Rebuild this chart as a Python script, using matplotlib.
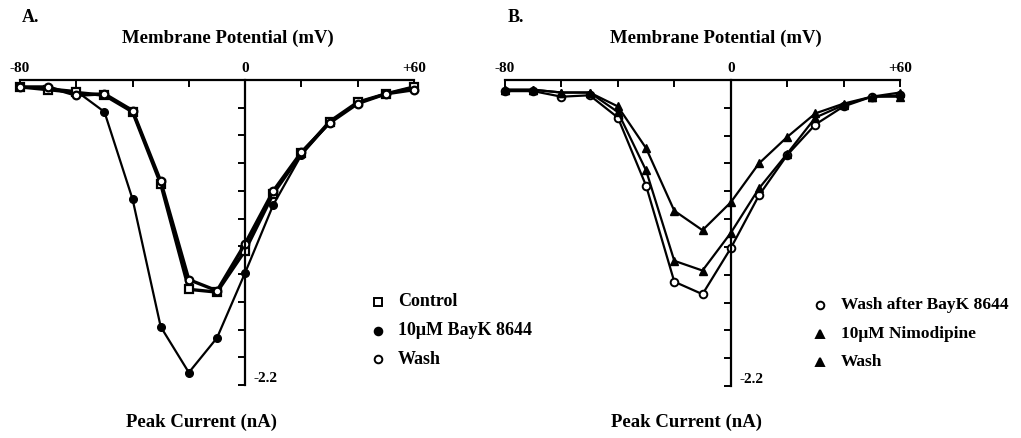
import numpy as np
import matplotlib.pyplot as plt

plt.rcParams['font.family'] = ['Liberation Serif', 'DejaVu Serif']
plt.rcParams['font.weight'] = 'bold'

# membrane potential steps (mV)
voltage = [-80, -70, -60, -50, -40, -30, -20, -10, 0, 10, 20, 30, 40, 50, 60]

# panel A peak currents (nA)
control_a = [-0.05, -0.07, -0.09, -0.11, -0.23, -0.75, -1.51, -1.53, -1.23, -0.82, -0.53, -0.30, -0.16, -0.10, -0.05]
bayk_a = [-0.05, -0.06, -0.08, -0.23, -0.86, -1.78, -2.11, -1.86, -1.39, -0.90, -0.54, -0.31, -0.16, -0.10, -0.05]
wash_a = [-0.05, -0.05, -0.11, -0.10, -0.22, -0.73, -1.44, -1.52, -1.18, -0.80, -0.52, -0.31, -0.17, -0.10, -0.07]

# panel B peak currents (nA)
wash_bayk_b = [-0.08, -0.08, -0.12, -0.11, -0.27, -0.76, -1.45, -1.54, -1.21, -0.83, -0.54, -0.32, -0.19, -0.12, -0.11]
nimo_b = [-0.07, -0.07, -0.09, -0.09, -0.19, -0.49, -0.94, -1.08, -0.88, -0.60, -0.41, -0.24, -0.17, -0.12, -0.09]
wash_b = [-0.07, -0.07, -0.09, -0.09, -0.23, -0.65, -1.30, -1.37, -1.10, -0.78, -0.53, -0.27, -0.18, -0.12, -0.12]

labels_a = ["Control", "10\u03bcM BayK 8644", "Wash"]
labels_b = ["Wash after BayK 8644", "10\u03bcM Nimodipine", "Wash"]

W, H = 1021, 438


def setup_axes(ax):
    ax.set_xlim(-80, 60)
    ax.set_ylim(-2.2, 0)
    ax.spines['bottom'].set_visible(False)
    ax.spines['right'].set_visible(False)
    ax.spines['left'].set_position(('data', 0))
    ax.spines['top'].set_linewidth(1.6)
    ax.spines['left'].set_linewidth(1.6)
    ax.xaxis.set_ticks_position('top')
    ax.set_xticks(np.arange(-80, 61, 20))
    ax.set_xticklabels([])
    ax.tick_params(axis='x', direction='in', length=5, width=1.4)
    ax.set_yticks(np.arange(-2.2, 0.01, 0.2))
    ax.set_yticklabels([])
    ax.tick_params(axis='y', direction='out', length=5, width=1.4)
    ax.patch.set_alpha(0)
    for xv, s in [(-80, "-80"), (0, "0"), (60, "+60")]:
        ax.text(xv, 0.035, s, ha='center', va='bottom', fontsize=11, fontweight='bold')
    ax.text(3, -2.2, "-2.2", ha='left', va='bottom', fontsize=11, fontweight='bold')


def px_axes(left, right, top, bottom):
    return fig.add_axes([left / W, 1 - bottom / H, (right - left) / W, (bottom - top) / H])


fig = plt.figure(figsize=(W / 100, H / 100), dpi=100)

# ---------------- panel A
axA = px_axes(20, 414, 80, 385)
setup_axes(axA)
axA.plot(voltage, bayk_a, '-o', color='black', lw=1.6, ms=5.5, mfc='black', clip_on=False)
axA.plot(voltage, control_a, '-s', color='black', lw=2.4, ms=5.5, mfc='white', mew=1.6, clip_on=False)
axA.plot(voltage, wash_a, '-o', color='black', lw=2.4, ms=5.5, mfc='white', mew=1.6, clip_on=False)

# ---------------- panel B
axB = px_axes(505, 900, 80, 386)
setup_axes(axB)
axB.plot(voltage, wash_bayk_b, '-o', color='black', lw=1.6, ms=5.5, mfc='white', mew=1.4, clip_on=False)
axB.plot(voltage, wash_b, '-^', color='black', lw=1.6, ms=6, mfc='black', clip_on=False)
axB.plot(voltage, nimo_b, '-^', color='black', lw=1.6, ms=6, mfc='black', clip_on=False)

# panel texts
def ftext(x, y, s, **kw):
    fig.text(x / W, 1 - y / H, s, fontweight='bold', **kw)

ftext(22, 18, "A.", fontsize=13, ha='left', va='center')
ftext(508, 18, "B.", fontsize=13, ha='left', va='center')
ftext(228, 38, "Membrane Potential (mV)", fontsize=13.5, ha='center', va='center')
ftext(716, 38, "Membrane Potential (mV)", fontsize=13.5, ha='center', va='center')
ftext(201, 422, "Peak Current (nA)", fontsize=13.5, ha='center', va='center')
ftext(686, 422, "Peak Current (nA)", fontsize=13.5, ha='center', va='center')

# legends drawn as marker + text rows
legA = [('s', 'white'), ('o', 'black'), ('o', 'white')]
for i, (lab, (m, fc)) in enumerate(zip(labels_a, legA)):
    y = 302 + i * 28.5
    fig.lines.append(plt.Line2D([378 / W], [1 - y / H], marker=m, ms=5.5, mfc=fc, mec='black', mew=1.4,
                                transform=fig.transFigure))
    ftext(398, y, lab, fontsize=13, ha='left', va='center')

legB = [('o', 'white'), ('^', 'black'), ('^', 'black')]
for i, (lab, (m, fc)) in enumerate(zip(labels_b, legB)):
    y = 305 + i * 28.5
    fig.lines.append(plt.Line2D([820 / W], [1 - y / H], marker=m, ms=5.5, mfc=fc, mec='black', mew=1.4,
                                transform=fig.transFigure))
    ftext(841, y, lab, fontsize=12.5, ha='left', va='center')

fig.savefig("out.png", dpi=100)
